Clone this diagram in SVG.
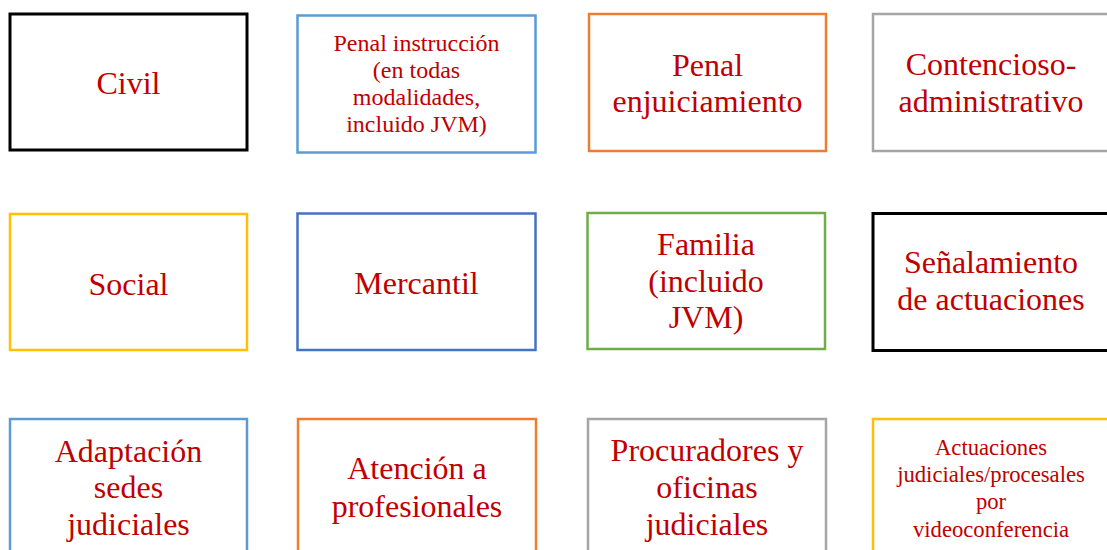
<svg xmlns="http://www.w3.org/2000/svg" width="1107" height="550" viewBox="0 0 1107 550">
<style>
rect{fill:#FFFFFF;stroke-width:2.5}
text{font-family:"Liberation Serif","Times New Roman",serif;fill:#C00000;text-anchor:middle}
.l{font-size:32px}
.m{font-size:24px}
.s{font-size:22.7px}
.k{stroke:#000000;stroke-width:3}
.b{stroke:#5B9BD5}
.o{stroke:#ED7D31}
.g{stroke:#A5A5A5}
.y{stroke:#FFC000}
.d{stroke:#4472C4}
.gr{stroke:#70AD47}
</style>
<rect width="1107" height="550" fill="#FFFFFF" stroke="none"/>
<g id="connectors"/>
<g id="civil"><rect class="k" x="10" y="14" width="237" height="136"/><text class="l" x="128.5" y="94">Civil</text></g>
<g id="penal-instruccion"><rect class="b" x="297.5" y="15.5" width="238" height="137"/><text class="m" x="416.5"><tspan x="416.5" y="51">Penal instrucción</tspan><tspan x="416.5" y="78">(en todas</tspan><tspan x="416.5" y="105">modalidades,</tspan><tspan x="416.5" y="132">incluido JVM)</tspan></text></g>
<g id="penal-enjuiciamiento"><rect class="o" x="589" y="14" width="237" height="137"/><text class="l" x="707.5"><tspan x="707.5" y="76">Penal</tspan><tspan x="707.5" y="112">enjuiciamiento</tspan></text></g>
<g id="contencioso"><rect class="g" x="873" y="14" width="237" height="137"/><text class="l" x="991"><tspan x="991" y="75">Contencioso-</tspan><tspan x="991" y="112">administrativo</tspan></text></g>
<g id="social"><rect class="y" x="10" y="214" width="237" height="136"/><text class="l" x="128.5" y="295">Social</text></g>
<g id="mercantil"><rect class="d" x="297.5" y="213.5" width="238" height="136.5"/><text class="l" x="416.5" y="294">Mercantil</text></g>
<g id="familia"><rect class="gr" x="587.5" y="213" width="237.5" height="136"/><text class="l" x="706"><tspan x="706" y="255">Familia</tspan><tspan x="706" y="292">(incluido</tspan><tspan x="706" y="328">JVM)</tspan></text></g>
<g id="senalamiento"><rect class="k" x="873" y="213.5" width="237" height="137"/><text class="l" x="991"><tspan x="991" y="273">Señalamiento</tspan><tspan x="991" y="310">de actuaciones</tspan></text></g>
<g id="adaptacion"><rect class="b" x="10" y="419" width="237" height="140"/><text class="l" x="128.5"><tspan x="128.5" y="462">Adaptación</tspan><tspan x="128.5" y="498">sedes</tspan><tspan x="128.5" y="535">judiciales</tspan></text></g>
<g id="atencion"><rect class="o" x="298" y="419" width="238" height="140"/><text class="l" x="417"><tspan x="417" y="479">Atención a</tspan><tspan x="417" y="517">profesionales</tspan></text></g>
<g id="procuradores"><rect class="g" x="588" y="419" width="238" height="140"/><text class="l" x="707"><tspan x="707" y="461">Procuradores y</tspan><tspan x="707" y="498">oficinas</tspan><tspan x="707" y="535">judiciales</tspan></text></g>
<g id="videoconferencia"><rect class="y" x="873" y="419" width="237" height="140"/><text class="s" x="991"><tspan x="991" y="455">Actuaciones</tspan><tspan x="991" y="482">judiciales/procesales</tspan><tspan x="991" y="509">por</tspan><tspan x="991" y="537">videoconferencia</tspan></text></g>
</svg>
